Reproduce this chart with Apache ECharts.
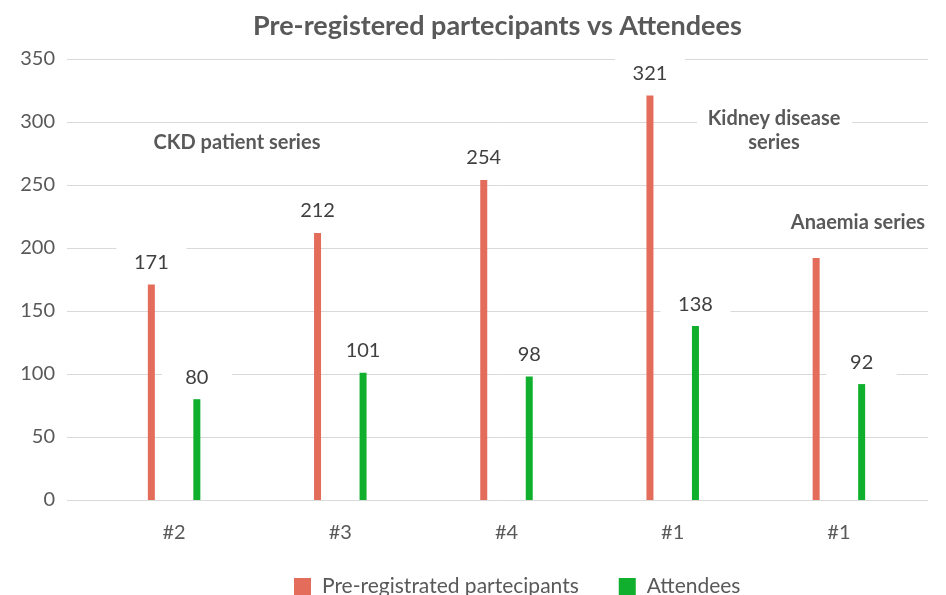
<!DOCTYPE html>
<html><head><meta charset="utf-8">
<script src="https://cdn.jsdelivr.net/npm/echarts@6/dist/echarts.min.js"></script>
<style>html,body{margin:0;padding:0;background:#fff;}#c{width:946px;height:595px;}</style>
</head><body><div id="c"></div>
<script>
const categories = ['#2', '#3', '#4', '#1', '#1'];
const preRegistered = [171, 212, 254, 321, 192];
const attendees = [80, 101, 98, 138, 92];
const yTicks = [0, 50, 100, 150, 200, 250, 300, 350];
const seriesNames = ['Pre-registrated partecipants', 'Attendees'];
const annotations = ['CKD patient series', 'Kidney disease\nseries', 'Anaemia series'];

const FONT = 'Lato';
const TXT = '#595959';
const chart = echarts.init(document.getElementById('c'), null, {renderer: 'canvas'});

const labelCfg = {
  show: true, position: 'top', distance: 7,
  color: '#404040', fontFamily: FONT, fontSize: 20,
  backgroundColor: '#fff', width: 70, height: 30, lineHeight: 30, align: 'center'
};

chart.setOption({
  animation: false,
  backgroundColor: '#fff',
  title: {
    text: 'Pre-registered partecipants vs Attendees',
    left: 248, top: 8,
    textStyle: {fontFamily: FONT, fontWeight: 'bold', fontSize: 27, color: TXT}
  },
  legend: {
    top: 571, left: 289, itemWidth: 17, itemHeight: 17, itemGap: 40,
    icon: 'rect',
    textStyle: {fontFamily: FONT, fontSize: 21, color: TXT, padding: [0, 0, 0, 6]},
    data: seriesNames
  },
  grid: [
    {left: 67, right: 18, top: 59, bottom: 95},
    {left: 91, right: 24, top: 59, bottom: 95}
  ],
  xAxis: [
    {gridIndex: 0, type: 'category', data: categories, show: false},
    {gridIndex: 1, type: 'category', data: categories,
     axisLine: {show: false}, axisTick: {show: false},
     axisLabel: {fontFamily: FONT, fontSize: 20, color: TXT, margin: 23}}
  ],
  yAxis: [
    {gridIndex: 0, type: 'value', min: yTicks[0], max: yTicks[yTicks.length - 1], interval: 50,
     axisLine: {show: false}, axisTick: {show: false},
     axisLabel: {fontFamily: FONT, fontSize: 20, color: TXT, margin: 12},
     splitLine: {lineStyle: {color: '#d9d9d9', width: 1}}},
    {gridIndex: 1, type: 'value', min: yTicks[0], max: yTicks[yTicks.length - 1], interval: 50,
     show: false, splitLine: {show: false}}
  ],
  series: [
    {name: seriesNames[0], type: 'bar', xAxisIndex: 1, yAxisIndex: 1,
     barWidth: 7, barGap: '550%', itemStyle: {color: '#E36C5B'},
     label: labelCfg,
     data: preRegistered.map((v, i) => i === 4 ? {value: v, label: {show: false}} : v)},
    {name: seriesNames[1], type: 'bar', xAxisIndex: 1, yAxisIndex: 1,
     barWidth: 7, barGap: '550%', itemStyle: {color: '#10B02E'},
     label: labelCfg, data: attendees}
  ],
  graphic: [
    {type: 'text', x: 237, y: 143, z: 10,
     style: {text: annotations[0], fontFamily: FONT, fontWeight: 'bold', fontSize: 20, fill: TXT,
             textAlign: 'center', textVerticalAlign: 'middle'}},
    {type: 'rect', x: 697, y: 106, z: 9, shape: {width: 155, height: 50}, style: {fill: '#fff'}},
    {type: 'text', x: 774, y: 131, z: 10,
     style: {text: annotations[1], fontFamily: FONT, fontWeight: 'bold', fontSize: 20, fill: TXT,
             textAlign: 'center', textVerticalAlign: 'middle', lineHeight: 24}},
    {type: 'text', x: 858, y: 223, z: 10,
     style: {text: annotations[2], fontFamily: FONT, fontWeight: 'bold', fontSize: 20, fill: TXT,
             textAlign: 'center', textVerticalAlign: 'middle'}}
  ]
});
</script></body></html>
